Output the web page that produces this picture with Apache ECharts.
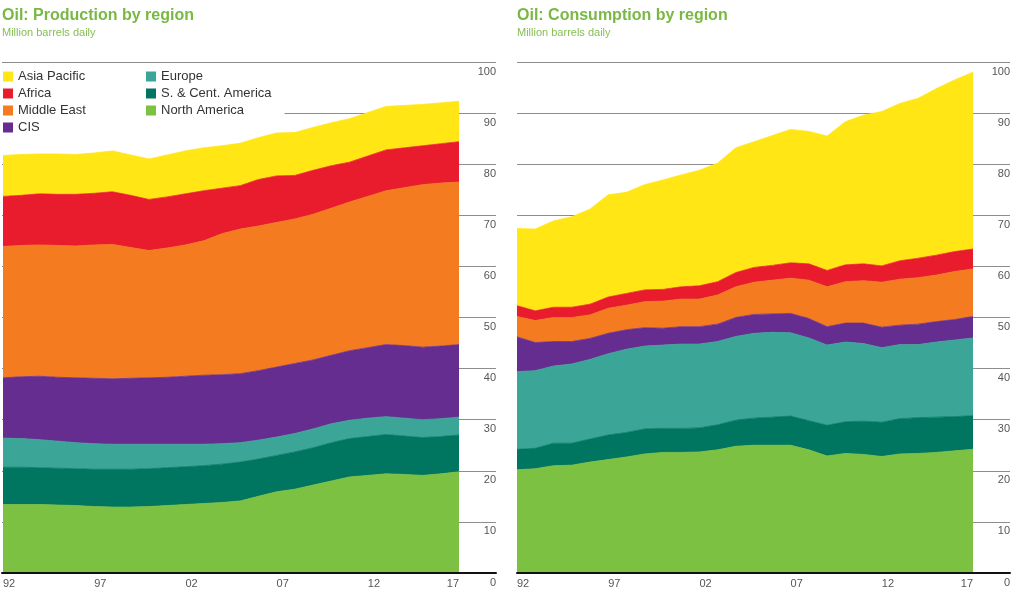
<!DOCTYPE html>
<html>
<head>
<meta charset="utf-8">
<script src="https://cdn.jsdelivr.net/npm/echarts@6/dist/echarts.min.js"></script>
<style>
  html, body { margin: 0; padding: 0; background: #fff; }
  #chart { width: 1024px; height: 598px; }
</style>
</head>
<body>
<div id="chart"></div>
<script>
// Categories (years 1992-2017)
const years = ['92','93','94','95','96','97','98','99','00','01','02','03','04','05','06','07','08','09','10','11','12','13','14','15','16','17'];
const yTicks = [0, 10, 20, 30, 40, 50, 60, 70, 80, 90, 100];

// Series names (stack order bottom -> top)
const regions = ['North America', 'S. & Cent. America', 'Europe', 'CIS', 'Middle East', 'Africa', 'Asia Pacific'];

// Production, million barrels daily
const prodNorthAmerica = [13.4,13.4,13.4,13.3,13.2,13.0,12.9,12.9,13.0,13.2,13.4,13.6,13.8,14.1,15.0,15.9,16.4,17.2,18.0,18.8,19.1,19.4,19.3,19.1,19.4,19.8];
const prodSCAmerica    = [7.3,7.3,7.2,7.2,7.2,7.3,7.4,7.4,7.4,7.4,7.4,7.4,7.5,7.6,7.3,7.1,7.3,7.3,7.5,7.5,7.6,7.7,7.5,7.4,7.3,7.2];
const prodEurope       = [5.7,5.6,5.5,5.3,5.1,5.0,4.9,4.9,4.8,4.6,4.4,4.2,4.0,3.8,3.7,3.6,3.6,3.7,3.7,3.6,3.6,3.5,3.5,3.5,3.5,3.5];
const prodCIS          = [11.8,12.1,12.4,12.5,12.7,12.8,12.8,12.9,13.0,13.1,13.3,13.5,13.5,13.5,13.6,13.7,13.7,13.5,13.4,13.6,13.8,14.1,14.2,14.2,14.2,14.2];
const prodMiddleEast   = [25.7,25.7,25.7,25.8,25.8,26.1,26.3,25.6,24.9,25.3,25.7,26.3,27.6,28.3,28.3,28.3,28.3,28.5,28.8,29.1,29.6,30.1,30.9,31.8,31.9,31.8];
const prodAfrica       = [9.8,9.8,10.0,10.0,10.1,10.1,10.3,10.2,10.0,10.0,10.0,9.8,8.9,8.5,9.1,9.1,8.5,8.6,8.3,7.8,7.9,8.0,7.8,7.6,7.7,7.9];
const prodAsiaPacific  = [8.0,8.0,7.8,7.9,7.8,7.9,8.0,7.9,7.9,8.2,8.4,8.4,8.3,8.3,8.2,8.4,8.4,8.4,8.4,8.5,8.5,8.5,8.3,8.1,8.0,7.9];

// Consumption, million barrels daily
const consNorthAmerica = [20.2,20.4,21.0,21.1,21.7,22.2,22.7,23.3,23.6,23.6,23.7,24.1,24.8,25.0,25.0,25.0,24.1,22.9,23.4,23.2,22.8,23.3,23.4,23.6,23.9,24.2];
const consSCAmerica    = [4.0,4.0,4.4,4.3,4.5,4.8,4.8,4.9,4.7,4.7,4.7,4.9,5.1,5.3,5.5,5.7,5.7,6.0,6.2,6.5,6.7,6.9,7.0,6.9,6.7,6.6];
const consEurope       = [15.2,15.2,15.1,15.5,15.6,15.9,16.3,16.2,16.3,16.5,16.4,16.3,16.4,16.6,16.6,16.3,16.2,15.7,15.6,15.2,14.6,14.5,14.3,14.7,15.0,15.2];
const consCIS          = [6.8,5.5,4.8,4.4,4.1,4.0,3.8,3.6,3.3,3.4,3.4,3.4,3.7,3.7,3.6,3.8,3.8,3.6,3.7,4.0,4.0,3.8,4.0,4.0,4.0,4.2];
const consMiddleEast   = [4.0,4.3,4.7,4.7,4.6,4.9,4.8,5.1,5.3,5.4,5.4,5.7,6.0,6.3,6.6,6.9,7.5,7.8,8.1,8.3,8.8,9.0,9.1,9.1,9.4,9.3];
const consAfrica       = [2.1,1.9,2.0,2.0,2.1,2.2,2.3,2.3,2.3,2.4,2.6,2.6,2.8,2.9,2.9,3.0,3.2,3.2,3.3,3.3,3.2,3.6,3.8,3.9,3.9,3.9];
const consAsiaPacific  = [15.1,16.0,16.9,17.7,18.6,20.0,19.8,20.6,21.4,21.9,22.6,23.2,24.4,24.6,25.4,26.1,25.9,26.3,28.0,29.1,30.2,30.8,31.3,32.6,33.6,34.6];

const prodData = [prodNorthAmerica, prodSCAmerica, prodEurope, prodCIS, prodMiddleEast, prodAfrica, prodAsiaPacific];
const consData = [consNorthAmerica, consSCAmerica, consEurope, consCIS, consMiddleEast, consAfrica, consAsiaPacific];

const colors = {
  'North America': '#7cc142',
  'S. & Cent. America': '#00755f',
  'Europe': '#3ba597',
  'CIS': '#662d91',
  'Middle East': '#f47b20',
  'Africa': '#e91c2d',
  'Asia Pacific': '#ffe614'
};

const FONT = '"Liberation Sans", Arial, Helvetica, sans-serif';
const GREEN = '#79b843';
const GRID_TOP = 62, GRID_H = 511;

function areaSeries(data, axisIdx, stack) {
  return regions.map((name, k) => ({
    name: name,
    type: 'line',
    stack: stack,
    xAxisIndex: axisIdx,
    yAxisIndex: axisIdx,
    data: data[k],
    symbol: 'none',
    showSymbol: false,
    smooth: false,
    z: 2,
    lineStyle: { width: 0.8, color: colors[name] },
    itemStyle: { color: colors[name] },
    areaStyle: { color: colors[name], opacity: 1 },
    emphasis: { disabled: true }
  }));
}

function frameXAxis(gridIndex) {
  return {
    gridIndex: gridIndex, type: 'value', min: 0, max: 1, z: 10,
    axisLine: { show: true, lineStyle: { color: '#111', width: 2 } },
    axisTick: { show: false }, axisLabel: { show: false }, splitLine: { show: false }
  };
}
function frameYAxis(gridIndex) {
  return {
    gridIndex: gridIndex, type: 'value', min: yTicks[0], max: yTicks[yTicks.length - 1], interval: yTicks[1] - yTicks[0],
    position: 'right', z: 0,
    axisLine: { show: false }, axisTick: { show: false },
    splitLine: { show: true, lineStyle: { color: '#8d8d8d', width: 1 } },
    axisLabel: {
      inside: true, margin: 0, align: 'right', verticalAlign: 'top',
      padding: [4, 0, 0, 0],
      fontSize: 11, color: '#555', fontFamily: FONT
    }
  };
}
function dataXAxis(gridIndex) {
  return {
    gridIndex: gridIndex, type: 'category', data: years, boundaryGap: false,
    axisLine: { show: false }, axisTick: { show: false }, splitLine: { show: false },
    axisLabel: {
      interval: 4, margin: 5, align: 'left', alignMaxLabel: 'right',
      fontSize: 11, color: '#555', fontFamily: FONT
    }
  };
}
function dataYAxis(gridIndex) {
  return {
    gridIndex: gridIndex, type: 'value', min: yTicks[0], max: yTicks[yTicks.length - 1], show: false,
    splitLine: { show: false }
  };
}

const legendCommon = {
  orient: 'vertical', top: 68, itemWidth: 10, itemHeight: 10, itemGap: 4, icon: 'rect',
  backgroundColor: '#ffffff', z: 6, selectedMode: false,
  textStyle: { fontSize: 13, color: '#333', fontFamily: FONT, lineHeight: 13 }
};

const option = {
  animation: false,
  backgroundColor: '#ffffff',
  title: [
    { text: 'Oil: Production by region', subtext: 'Million barrels daily', left: 2, top: 8, padding: 0, itemGap: 3,
      textStyle: { fontSize: 16, fontWeight: 'bold', color: GREEN, fontFamily: FONT, lineHeight: 16 },
      subtextStyle: { fontSize: 11, color: '#86bf57', fontFamily: FONT, lineHeight: 11 } },
    { text: 'Oil: Consumption by region', subtext: 'Million barrels daily', left: 517, top: 8, padding: 0, itemGap: 3,
      textStyle: { fontSize: 16, fontWeight: 'bold', color: GREEN, fontFamily: FONT, lineHeight: 16 },
      subtextStyle: { fontSize: 11, color: '#86bf57', fontFamily: FONT, lineHeight: 11 } }
  ],
  legend: [
    Object.assign({}, legendCommon, { left: 0, padding: [2, 62, 2, 3], data: ['Asia Pacific', 'Africa', 'Middle East', 'CIS'] }),
    Object.assign({}, legendCommon, { left: 146, padding: [2, 13, 2, 0], data: ['Europe', 'S. & Cent. America', 'North America'] })
  ],
  grid: [
    { left: 2, top: GRID_TOP, width: 494, height: GRID_H },
    { left: 2, top: GRID_TOP, width: 457, height: GRID_H },
    { left: 517, top: GRID_TOP, width: 493, height: GRID_H },
    { left: 517, top: GRID_TOP, width: 456, height: GRID_H }
  ],
  xAxis: [frameXAxis(0), dataXAxis(1), frameXAxis(2), dataXAxis(3)],
  yAxis: [frameYAxis(0), dataYAxis(1), frameYAxis(2), dataYAxis(3)],
  series: [].concat(areaSeries(prodData, 1, 'prod'), areaSeries(consData, 3, 'cons'))
};

const chart = echarts.init(document.getElementById('chart'), null, { renderer: 'canvas' });
chart.setOption(option);
</script>
</body>
</html>
